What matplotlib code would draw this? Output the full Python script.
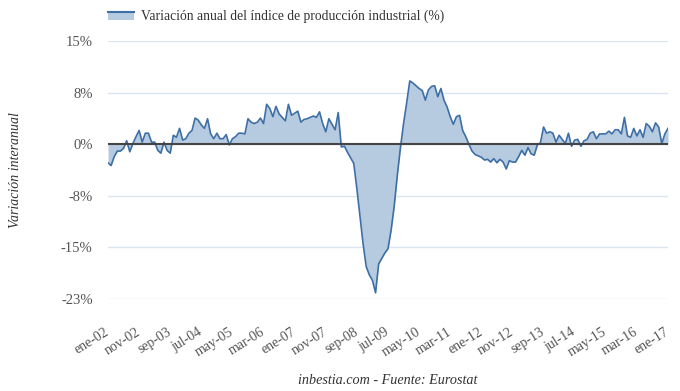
import matplotlib
matplotlib.use("Agg")
import matplotlib.pyplot as plt
from matplotlib.legend_handler import HandlerBase
from matplotlib.patches import Rectangle
from matplotlib.lines import Line2D

plt.rcParams['font.family'] = ['Liberation Serif', 'DejaVu Serif']

# monthly values, ene-02 .. ene-17
values = [
    -2.7, -3.1, -1.8, -1.0, -1.0, -0.6, 0.5, -1.1, 0.1, 1.1, 2.0, 0.3,
    1.6, 1.6, 0.3, 0.3, -0.9, -1.3, 0.3, -0.9, -1.3, 1.3, 1.0, 2.3,
    0.6, 0.8, 1.6, 2.0, 3.8, 3.5, 2.8, 2.3, 3.7, 1.5, 0.8, 1.6,
    0.8, 0.8, 1.4, -0.1, 0.8, 1.1, 1.6, 1.6, 1.5, 3.7, 3.2, 3.0,
    3.2, 3.8, 3.0, 5.8, 5.2, 4.0, 5.5, 4.4, 3.9, 3.4, 5.8, 4.2,
    4.5, 4.8, 3.2, 3.6, 3.7, 3.9, 4.1, 3.9, 4.7, 3.0, 1.8, 3.7,
    2.9, 2.1, 4.6, -0.4, -0.3, -1.2, -2.0, -2.8, -6.5, -10.5, -14.5, -17.8,
    -19.0, -19.8, -21.6, -17.4, -16.6, -15.8, -15.2, -12.5, -9.0, -4.5, -0.5, 3.0,
    6.0, 9.2, 8.9, 8.5, 8.1, 7.8, 6.4, 7.9, 8.4, 8.5, 6.9, 8.1,
    6.4, 5.4, 4.0, 2.9, 4.0, 4.2, 2.0, 1.1, 0.0, -1.0, -1.5, -1.7,
    -1.9, -2.3, -2.2, -2.6, -2.1, -2.7, -2.2, -2.6, -3.6, -2.4, -2.6, -2.6,
    -1.8, -0.9, -1.6, -0.5, -1.4, -1.6, -0.1, 0.2, 2.5, 1.6, 1.8, 1.6,
    0.3, 1.3, 0.7, 0.1, 1.6, -0.3, 0.6, 0.7, -0.3, 0.5, 0.7, 1.6,
    1.8, 0.8, 1.5, 1.5, 1.5, 1.9, 1.5, 2.1, 2.1, 1.5, 3.9, 1.2,
    1.0, 2.3, 1.2, 2.1, 1.0, 3.0, 2.6, 1.8, 3.1, 2.5, 0.1, 1.5,
    2.3,
]
months = list(range(len(values)))

tick_pos = list(range(0, 181, 10))
tick_labels = ["ene-02", "nov-02", "sep-03", "jul-04", "may-05", "mar-06",
               "ene-07", "nov-07", "sep-08", "jul-09", "may-10", "mar-11",
               "ene-12", "nov-12", "sep-13", "jul-14", "may-15", "mar-16",
               "ene-17"]
y_ticks = [15, 7.5, 0, -7.5, -15, -22.5]
y_labels = ["15%", "8%", "0%", "-8%", "-15%", "-23%"]

fill_col = '#b6cae0'
line_col = '#3d6fa6'


class AreaHandler(HandlerBase):
    def create_artists(self, legend, orig_handle, xd, yd, width, height, fontsize, trans):
        h = height * 0.75
        rect = Rectangle((-xd, -yd), width, h, facecolor=fill_col, edgecolor='none', transform=trans)
        line = Line2D([-xd, -xd + width], [-yd + h, -yd + h], color=line_col, lw=1.5, transform=trans)
        return [rect, line]


fig = plt.figure(figsize=(6.8, 3.91), dpi=100)
ax = fig.add_axes([108/680, 92/391, 560/680, 258/391])

ax.fill_between(months, values, 0, color=fill_col, lw=0)
ax.plot(months, values, color=line_col, lw=1.2)
ax.axhline(0, color='#444444', lw=1.5, zorder=3)

ax.set_xlim(0, 180)
ax.set_ylim(-22.5, 15)
ax.set_yticks(y_ticks)
ax.set_yticklabels(y_labels)
ax.set_xticks(tick_pos)
ax.set_xticklabels(tick_labels, rotation=32, ha='right', va='center', rotation_mode='anchor')
ax.tick_params(axis='x', length=0, pad=23, labelsize=10, labelcolor='#555555')
ax.tick_params(axis='y', length=0, pad=11, labelsize=10.5, labelcolor='#555555')
ax.grid(axis='y', color='#d9e5f1', lw=1)
ax.set_axisbelow(True)
for s in ax.spines.values():
    s.set_visible(False)

ax.set_ylabel("Variación interanual", fontstyle='italic', fontsize=10, color='#333333')
ax.yaxis.set_label_coords(-86/560, 0.5)

fig.legend([object()], ["Variación anual del índice de producción industrial (%)"],
           handler_map={object: AreaHandler()},
           loc='center left', bbox_to_anchor=(108/680, 1 - 16/391),
           frameon=False, fontsize=9.8, handlelength=1.9, handleheight=0.7,
           handletextpad=0.5, borderpad=0, borderaxespad=0, labelcolor='#333333')

fig.text(388/680, 1 - 380/391, "inbestia.com - Fuente: Eurostat",
         ha='center', va='center', fontstyle='italic', fontsize=10.2, color='#333333')

fig.savefig("out.png", dpi=100)
